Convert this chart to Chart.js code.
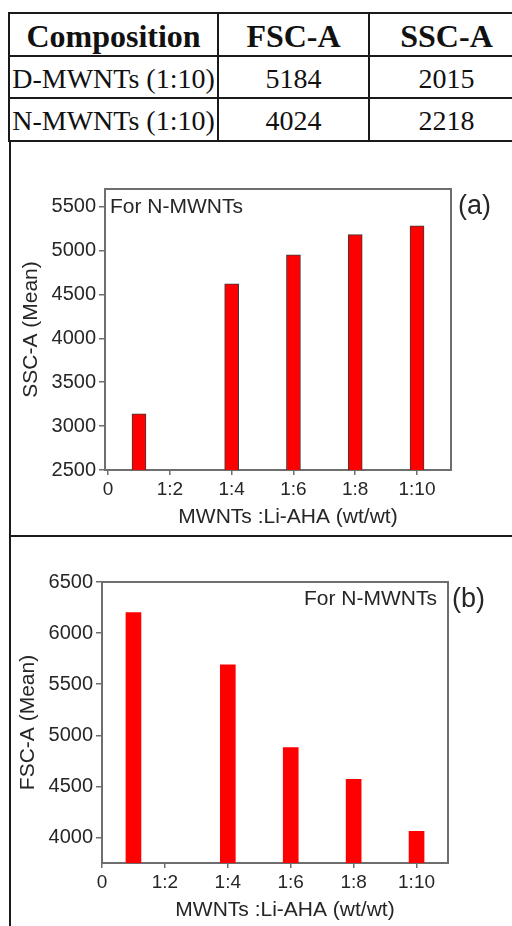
<!DOCTYPE html>
<html>
<head>
<meta charset="utf-8">
<script src="https://cdn.jsdelivr.net/npm/chart.js@4.4.1/dist/chart.umd.min.js"></script>
<style>
html,body{margin:0;padding:0;background:#fff;width:512px;height:926px;overflow:hidden;}
#tbl{position:absolute;left:8px;top:12px;width:515px;border-collapse:collapse;table-layout:fixed;
  font-family:"Liberation Serif","Times New Roman",serif;color:#111;}
#tbl th,#tbl td{border:2px solid #1a1a1a;padding:0;text-align:center;white-space:nowrap;}
#tbl th{font-size:32px;font-weight:bold;padding-top:3px;}
#tbl td{font-size:28px;padding-top:3px;}
.panel{position:absolute;left:9px;width:520px;border-left:2px solid #1a1a1a;}
#panelA{top:141px;height:394px;border-bottom:2px solid #1a1a1a;}
#panelB{top:537px;height:400px;}
canvas{position:absolute;}
#chartA{left:11px;top:143px;}
#chartB{left:11px;top:539px;}
</style>
</head>
<body>
<table id="tbl">
  <colgroup><col style="width:209px"><col style="width:151px"><col style="width:155px"></colgroup>
  <thead></thead>
  <tbody></tbody>
</table>
<div class="panel" id="panelA"></div>
<div class="panel" id="panelB"></div>
<canvas id="chartA" width="501" height="392"></canvas>
<canvas id="chartB" width="501" height="387"></canvas>
<script>
// table
const tableHeaders = ['Composition', 'FSC-A', 'SSC-A'];
const tableRows = [
  ['D-MWNTs (1:10)', '5184', '2015'],
  ['N-MWNTs (1:10)', '4024', '2218']
];
// both bar panels share the x axis
const ratioTicks = [0, 2, 4, 6, 8, 10];
const ratioTickLabels = ['0', '1:2', '1:4', '1:6', '1:8', '1:10'];
const ratioPositions = [1, 4, 6, 8, 10];
// (a) side scatter
const sscMeans = [3140, 4620, 4950, 5180, 5280];
const sscTicks = [2500, 3000, 3500, 4000, 4500, 5000, 5500];
// (b) forward scatter
const fscMeans = [6200, 5690, 4880, 4570, 4060];
const fscTicks = [4000, 4500, 5000, 5500, 6000, 6500];

var head = document.querySelector('#tbl thead')
var tr = document.createElement('tr')
tr.style.height = '43px'
tableHeaders.forEach(function(h){
  var th = document.createElement('th')
  th.textContent = h
  tr.appendChild(th)
})
head.appendChild(tr)
var body = document.querySelector('#tbl tbody')
tableRows.forEach(function(row, i){
  var r = document.createElement('tr')
  r.style.height = (i == 0 ? 42 : 43) + 'px'
  row.forEach(function(c){
    var td = document.createElement('td')
    td.textContent = c
    r.appendChild(td)
  })
  body.appendChild(r)
})

var FONT = 'Liberation Sans'
var frameColor = '#6e6e6e'
var textColor = '#262626'

// note inside the plot, panel tag to its right, x title (sits a bit right of centre in the original)
var panelText = {
  id: 'panelText',
  afterDraw: function(chart, args, o){
    var ctx = chart.ctx, a = chart.chartArea
    ctx.save()
    ctx.fillStyle = textColor
    ctx.textBaseline = 'middle'
    ctx.font = '21px "' + FONT + '"'
    if (o.noteAlign == 'left') {
      ctx.textAlign = 'left'
      ctx.fillText(o.note, a.left + 5, a.top + 18)
    } else {
      ctx.textAlign = 'right'
      ctx.fillText(o.note, a.right - 11, a.top + 17)
    }
    ctx.textAlign = 'center'
    ctx.fillText(o.xTitle, (a.left + a.right) / 2 + 10, chart.height - o.xTitleUp)
    ctx.font = '27px "' + FONT + '"'
    ctx.textAlign = 'left'
    ctx.fillText(o.tag, a.right + o.tagGap, a.top + 18)
    ctx.restore()
  }
}

function barPanel(canvas, s){
  return new Chart(canvas, {
    type: 'bar',
    data: {
      datasets: [{
        data: ratioPositions.map(function(x, i){ return {x: x, y: s.values[i]} }),
        backgroundColor: '#ff0000',
        borderColor: s.barBorder,
        borderWidth: s.barBorder ? 1 : 0,
        barThickness: s.barWidth
      }]
    },
    options: {
      responsive: false,
      animation: false,
      layout: {padding: {top: s.top, right: s.right, left: 0, bottom: 0}},
      plugins: {
        legend: {display: false},
        tooltip: {enabled: false},
        panelText: {note: 'For N-MWNTs', noteAlign: s.noteAlign, tag: s.tag, tagGap: s.tagGap,
          xTitle: 'MWNTs :Li-AHA (wt/wt)', xTitleUp: s.xTitleUp}
      },
      scales: {
        x: {
          type: 'linear', min: s.xMin, max: s.xMax, offset: false,
          afterFit: function(sc){ sc.height = s.xHeight },
          afterBuildTicks: function(sc){ sc.ticks = ratioTicks.map(function(v){ return {value: v} }) },
          border: {color: frameColor, width: 2},
          grid: {offset: false, drawOnChartArea: false, drawTicks: true, tickLength: 5, color: frameColor, lineWidth: 1.5},
          ticks: {
            callback: function(v){ return ratioTickLabels[ratioTicks.indexOf(v)] },
            font: {family: FONT, size: 19}, color: textColor, padding: 3, maxRotation: 0, autoSkip: false
          }
        },
        y: {
          min: s.min, max: s.max,
          afterFit: function(sc){ sc.width = s.yWidth },
          afterBuildTicks: function(sc){ sc.ticks = s.ticks.map(function(v){ return {value: v} }) },
          border: {color: frameColor, width: 2},
          grid: {drawOnChartArea: false, drawTicks: true, tickLength: 6, color: frameColor, lineWidth: 1.5},
          ticks: {
            callback: function(v){ return String(v) },
            font: {family: FONT, size: 20}, color: textColor, padding: 3, autoSkip: false
          },
          title: {display: true, text: s.yTitle, font: {family: FONT, size: 21},
            color: textColor, padding: {top: s.yTitlePad, bottom: 0}}
        },
        x2: {position: 'top', afterFit: function(sc){ sc.height = 0 },
          border: {color: frameColor, width: 2}, grid: {display: false}, ticks: {display: false}},
        y2: {position: 'right', afterFit: function(sc){ sc.width = 0 },
          border: {color: frameColor, width: 2}, grid: {display: false}, ticks: {display: false}}
      }
    },
    plugins: [panelText]
  })
}

barPanel(document.getElementById('chartA'), {
  values: sscMeans, ticks: sscTicks, min: 2500, max: 5700, xMin: -0.1, xMax: 11.1, yTitle: 'SSC-A (Mean)',
  top: 46, right: 61, yWidth: 94, xHeight: 65, xTitleUp: 18, yTitlePad: 8,
  barWidth: 14, barBorder: '#3a3a3a', noteAlign: 'left', tag: '(a)', tagGap: 7
})
barPanel(document.getElementById('chartB'), {
  values: fscMeans, ticks: fscTicks, min: 3750, max: 6500, xMin: 0, xMax: 11, yTitle: 'FSC-A (Mean)',
  top: 43, right: 64, yWidth: 91, xHeight: 63, xTitleUp: 16, yTitlePad: 5,
  barWidth: 15, barBorder: null, noteAlign: 'right', tag: '(b)', tagGap: 4
})
</script>
</body>
</html>
